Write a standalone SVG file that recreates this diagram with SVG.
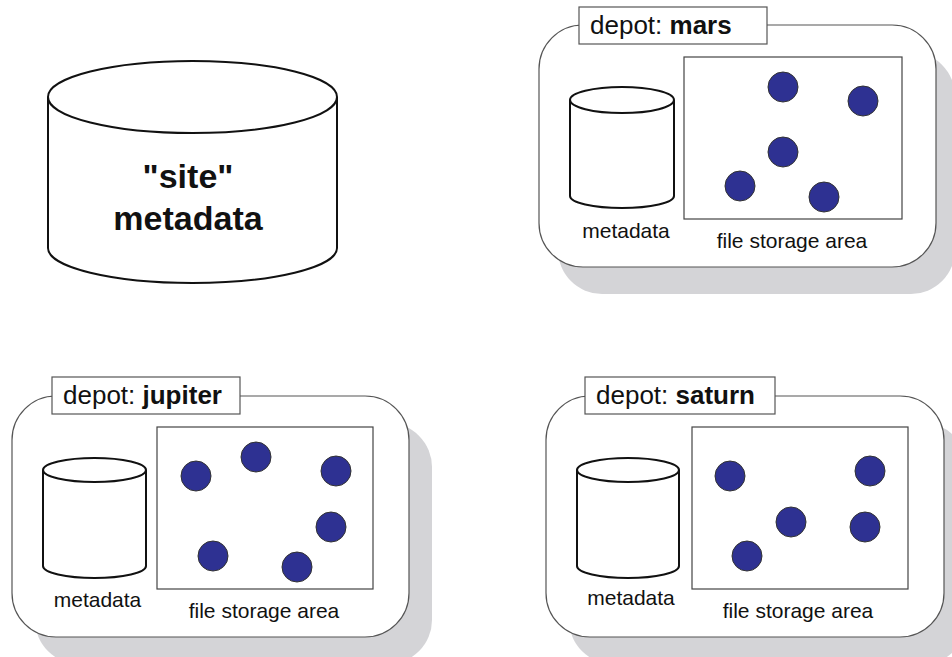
<svg xmlns="http://www.w3.org/2000/svg" width="952" height="657" viewBox="0 0 952 657">
<style>
.shadow{fill:#d4d4d7;stroke:none}
.box{fill:#fff;stroke:#555;stroke-width:1.2}
.lbl{fill:#fff;stroke:#555;stroke-width:1.2}
.cyl{fill:#fff;stroke:#111;stroke-width:2}
.area{fill:#fff;stroke:#444;stroke-width:1.2}
.dot{fill:#2e3192;stroke:#333;stroke-width:1}
text{font-family:"Liberation Sans",Arial,sans-serif;fill:#111}
.t21{font-size:21px}
.t26{font-size:26px}
.big{font-size:34px;font-weight:bold}
</style>
<rect width="952" height="657" fill="#fff"/>
<g id="site">
<path class="cyl" d="M48,97 V248 A144.5,35 0 0 0 337,248 V97"/>
<ellipse class="cyl" cx="192.5" cy="97" rx="144.5" ry="36"/>
<text class="big" x="188" y="188" text-anchor="middle">"site"</text>
<text class="big" x="188" y="230" text-anchor="middle">metadata</text>
</g>
<g id="mars">
<rect class="shadow" x="558" y="52" width="397" height="242" rx="44"/>
<rect class="box" x="539" y="25" width="397" height="242" rx="44"/>
<rect class="lbl" x="579" y="7" width="188" height="37"/>
<text class="t26" x="590" y="34">depot: <tspan font-weight="bold">mars</tspan></text>
<path class="cyl" d="M570,100 V196 A52,12 0 0 0 674,196 V100"/>
<ellipse class="cyl" cx="622" cy="100" rx="52" ry="13"/>
<text class="t21" x="626" y="238" text-anchor="middle">metadata</text>
<rect class="area" x="684" y="57" width="218" height="162"/>
<circle class="dot" cx="783" cy="87" r="15"/>
<circle class="dot" cx="863" cy="101" r="15"/>
<circle class="dot" cx="783" cy="152" r="15"/>
<circle class="dot" cx="740" cy="186" r="15"/>
<circle class="dot" cx="824" cy="197" r="15"/>
<text class="t21" x="792" y="248" text-anchor="middle">file storage area</text>
</g>
<g id="jupiter">
<rect class="shadow" x="35" y="423" width="397" height="241" rx="44"/>
<rect class="box" x="12" y="396" width="397" height="241" rx="44"/>
<rect class="lbl" x="52" y="377" width="188" height="37"/>
<text class="t26" x="63" y="404">depot: <tspan font-weight="bold">jupiter</tspan></text>
<path class="cyl" d="M43,470 V566 A51.5,12 0 0 0 146,566 V470"/>
<ellipse class="cyl" cx="94.5" cy="470" rx="51.5" ry="12"/>
<text class="t21" x="97.5" y="607" text-anchor="middle">metadata</text>
<rect class="area" x="157" y="427" width="216" height="162"/>
<circle class="dot" cx="196" cy="476" r="15"/>
<circle class="dot" cx="256" cy="457" r="15"/>
<circle class="dot" cx="336" cy="471" r="15"/>
<circle class="dot" cx="331" cy="527" r="15"/>
<circle class="dot" cx="213" cy="556" r="15"/>
<circle class="dot" cx="297" cy="567" r="15"/>
<text class="t21" x="264" y="618" text-anchor="middle">file storage area</text>
</g>
<g id="saturn">
<rect class="shadow" x="569" y="423" width="398" height="241" rx="44"/>
<rect class="box" x="546" y="396" width="398" height="241" rx="44"/>
<rect class="lbl" x="585" y="377" width="190" height="37"/>
<text class="t26" x="596" y="404">depot: <tspan font-weight="bold">saturn</tspan></text>
<path class="cyl" d="M577,470 V566 A51,12 0 0 0 679,566 V470"/>
<ellipse class="cyl" cx="628" cy="470" rx="51" ry="12"/>
<text class="t21" x="631" y="605" text-anchor="middle">metadata</text>
<rect class="area" x="692" y="427" width="216" height="162"/>
<circle class="dot" cx="730" cy="476" r="15"/>
<circle class="dot" cx="870" cy="471" r="15"/>
<circle class="dot" cx="791" cy="522" r="15"/>
<circle class="dot" cx="865" cy="527" r="15"/>
<circle class="dot" cx="747" cy="556" r="15"/>
<text class="t21" x="798" y="618" text-anchor="middle">file storage area</text>
</g>
<g id="connectors"></g>
</svg>
